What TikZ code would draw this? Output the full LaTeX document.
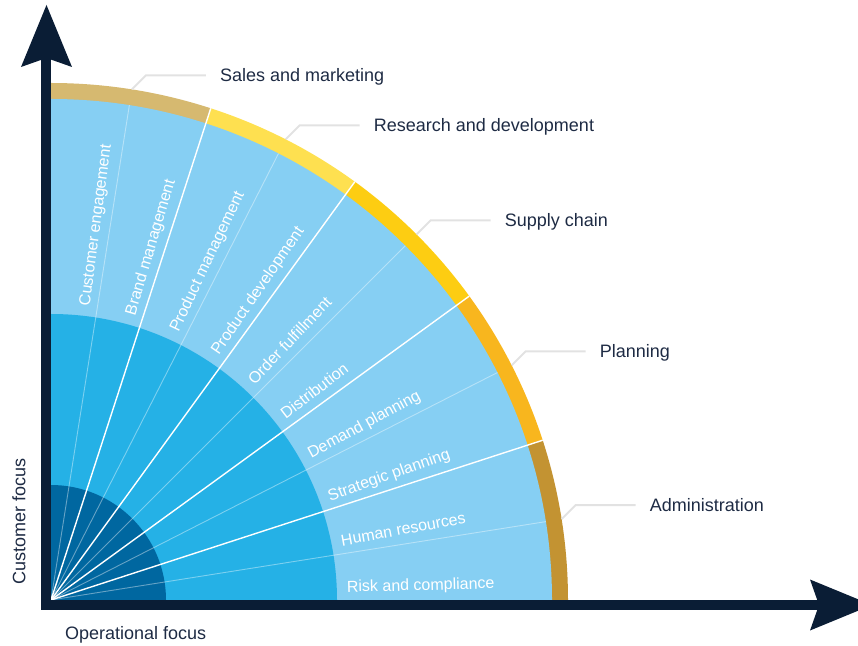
\documentclass[tikz,border=0pt]{standalone}
\usepackage{fontspec}
\setmainfont{Liberation Sans}
\usetikzlibrary{calc}
\definecolor{navy}{RGB}{10,29,53}
\definecolor{darkblue}{RGB}{0,103,160}
\definecolor{midblue}{RGB}{37,177,230}
\definecolor{lightblue}{RGB}{134,207,243}
\definecolor{tan}{RGB}{214,185,112}
\definecolor{yellowA}{RGB}{254,224,80}
\definecolor{yellowB}{RGB}{253,205,18}
\definecolor{orangeA}{RGB}{248,182,30}
\definecolor{bronze}{RGB}{195,147,50}
\definecolor{labelc}{RGB}{30,43,68}
\definecolor{leader}{RGB}{226,226,226}
\tikzset{
  seclabel/.style={anchor=base west, inner sep=0pt, text=white, font=\fontsize{16}{16}\selectfont},
  outlabel/.style={anchor=base west, inner sep=0pt, text=labelc, font=\fontsize{18}{18}\selectfont},
  leaderline/.style={draw=leader, line width=2pt},
  thickwhite/.style={draw=white, line width=1.4pt},
  thinwhite/.style={draw=white, draw opacity=0.4, line width=0.9pt},
}
\begin{document}
\begin{tikzpicture}[x=1pt,y=1pt]
\useasboundingbox (-51,-45) rectangle (807,600);
\coordinate (O) at (0,0);
% outer ring by groups
\foreach \i/\c in {0/bronze,1/orangeA,2/yellowB,3/yellowA,4/tan}{
  \fill[\c] (O) -- ({18*\i}:517) arc[start angle={18*\i}, end angle={18*(\i+1)}, radius=517] -- cycle;
}
% bands
\fill[lightblue] (O) -- (501,0) arc[start angle=0, end angle=90, radius=501] -- cycle;
\fill[midblue] (O) -- (286,0) arc[start angle=0, end angle=90, radius=286] -- cycle;
\fill[darkblue] (O) -- (115,0) arc[start angle=0, end angle=90, radius=115] -- cycle;
% separators
\foreach \a in {9,27,45,63,81}{ \draw[thinwhite] (O) -- (\a:501); }
\foreach \a in {18,36,54,72}{ \draw[thickwhite] (O) -- (\a:517); }
% sector labels
\foreach \k/\t in {0/Risk and compliance,1/Human resources,2/Strategic planning,3/Demand planning,4/Distribution,5/Order fulfillment,6/Product development,7/Product management,8/Brand management,9/Customer engagement}{
  \node[seclabel, rotate={1.5+9*\k}] (sec\k) at ({1.5+9*\k}:296) {\t};
}
% leader lines and group labels
\foreach \i/\t in {0/Administration,1/Planning,2/Supply chain,3/Research and development,4/Sales and marketing}{
  \coordinate (s\i) at ({9+18*\i}:517);
  \coordinate (c\i) at ($(s\i)+(14,14)$);
  \coordinate (e\i) at ($(c\i)+(60,0)$);
  \draw[leaderline] (s\i) -- (c\i) -- (e\i);
  \node[outlabel] (grp\i) at ($(c\i)+(74,-6.5)$) {\t};
}
% axes
\fill[navy] (-10,-10) rectangle (0,546);
\fill[navy] (-10,-10) rectangle (771,0);
\fill[navy] (-4.5,595) -- (21,533) -- (-4.5,542) -- (-30,533) -- cycle;
\fill[navy] (821,-5) -- (759,20.5) -- (768,-5) -- (759,-30.5) -- cycle;
% axis labels
\node[outlabel, rotate=90] (yl) at (-25.5,15) {Customer focus};
\node[outlabel] (xl) at (14,-39.5) {Operational focus};
\end{tikzpicture}
\end{document}
